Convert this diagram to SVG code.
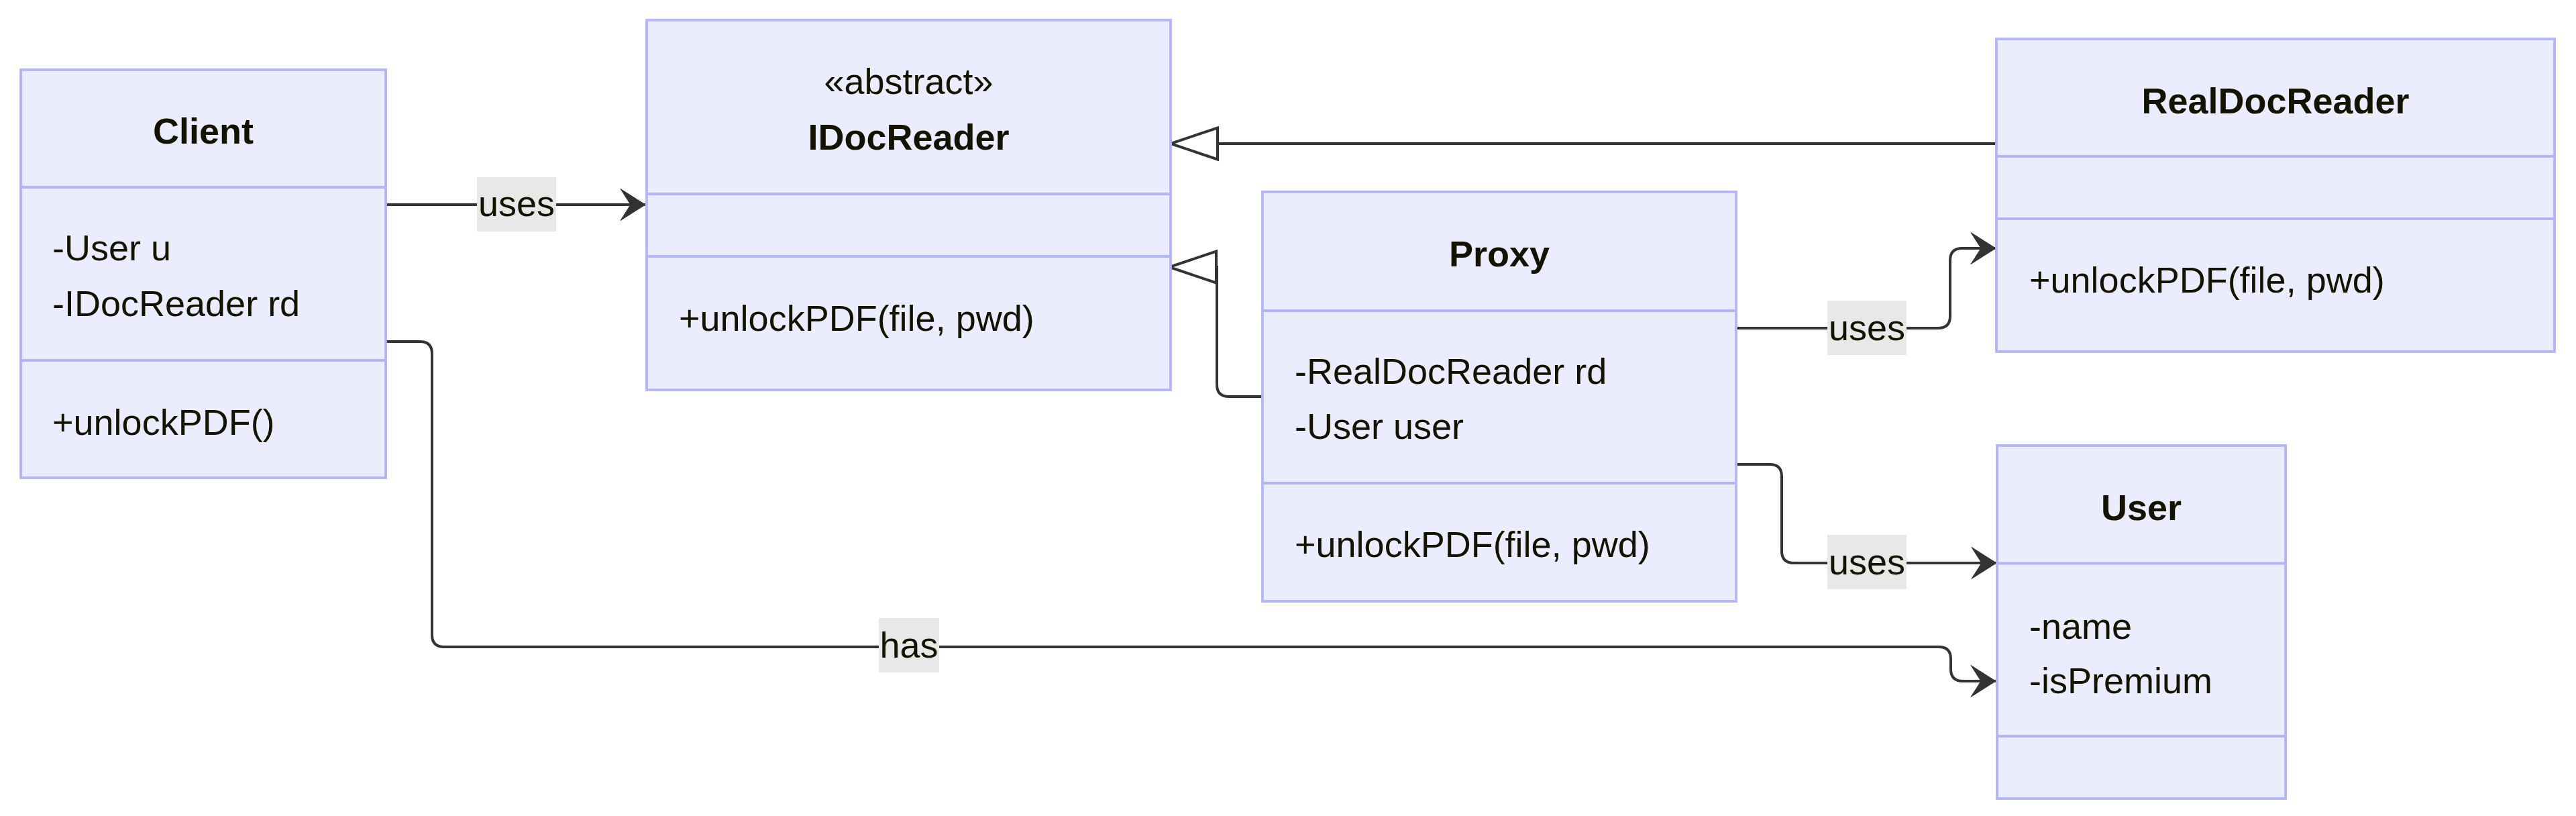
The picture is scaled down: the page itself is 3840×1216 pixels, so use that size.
<svg xmlns="http://www.w3.org/2000/svg" width="3840" height="1216" viewBox="0 0 3840 1216">
<style>
.box{fill:#ECECFF;stroke:#b4b4fa;stroke-width:3.8}
.dv{stroke:#b4b4fa;stroke-width:3.8}
.t{font-family:"Liberation Sans",Arial,Helvetica,sans-serif;font-size:54px;fill:#131300}
.h{font-weight:bold;text-anchor:middle}
.c{text-anchor:middle}
.edge{fill:none;stroke:#333333;stroke-width:4}
.lbl{fill:#e8e8e8}
</style>
<defs>
<marker id="arr" markerUnits="userSpaceOnUse" markerWidth="40" markerHeight="50" refX="37" refY="23.5" orient="auto" overflow="visible">
<path d="M37,23.5 L0,47 L15,23.5 L0,0 Z" fill="#333333" stroke="#333333" stroke-width="1" stroke-linejoin="round"/>
</marker>
<marker id="tri" markerUnits="userSpaceOnUse" markerWidth="76" markerHeight="54" refX="0" refY="23.5" orient="auto" overflow="visible">
<path d="M0,0 L70,23.5 L0,47 Z" fill="#ffffff" stroke="#333333" stroke-width="4"/>
</marker>
</defs>
<rect width="3840" height="1216" fill="#ffffff"/>

<g id="connectors">
<path class="edge" d="M575,305 L962,305" marker-end="url(#arr)"/>
<path class="edge" d="M575,509 L626,509 Q644,509 644,527 L644,946 Q644,964 662,964 L2890,964 Q2908,964 2908,982 L2908,997 Q2908,1015 2926,1015 L2975,1015" marker-end="url(#arr)"/>
<path class="edge" d="M2588,489 L2889,489 Q2907,489 2907,471 L2907,388 Q2907,370 2925,370 L2975,370" marker-end="url(#arr)"/>
<path class="edge" d="M2588,692 L2638,692 Q2656,692 2656,710 L2656,821 Q2656,839 2674,839 L2976,839" marker-end="url(#arr)"/>
<path class="edge" d="M2976,214 L1815,214" marker-end="url(#tri)"/>
<path class="edge" d="M1882,591 L1832,591 Q1814,591 1814,573 L1814,398 L1813,398" marker-end="url(#tri)"/>
<g id="labels">
<rect class="lbl" x="711" y="264" width="118" height="81"/>
<text class="t c" x="770" y="322">uses</text>
<rect class="lbl" x="1310" y="921" width="90" height="81"/>
<text class="t c" x="1355" y="980">has</text>
<rect class="lbl" x="2724" y="448" width="118" height="81"/>
<text class="t c" x="2783" y="507">uses</text>
<rect class="lbl" x="2724" y="797" width="118" height="81"/>
<text class="t c" x="2783" y="856">uses</text>
</g>
</g>

<g id="Client">
<rect class="box" x="31" y="104" width="544" height="608"/>
<line class="dv" x1="31" y1="279" x2="575" y2="279"/>
<line class="dv" x1="31" y1="537" x2="575" y2="537"/>
<text class="t h" x="303" y="214">Client</text>
<text class="t" x="78" y="388">-User u</text>
<text class="t" x="78" y="471">-IDocReader rd</text>
<text class="t" x="78" y="648">+unlockPDF()</text>
</g>

<g id="IDocReader">
<rect class="box" x="964" y="30" width="781" height="551"/>
<line class="dv" x1="964" y1="289" x2="1745" y2="289"/>
<line class="dv" x1="964" y1="382" x2="1745" y2="382"/>
<text class="t c" x="1354.5" y="140">«abstract»</text>
<text class="t h" x="1354.5" y="223">IDocReader</text>
<text class="t" x="1012" y="493">+unlockPDF(file, pwd)</text>
</g>

<g id="RealDocReader">
<rect class="box" x="2976" y="58" width="832" height="466"/>
<line class="dv" x1="2976" y1="233" x2="3808" y2="233"/>
<line class="dv" x1="2976" y1="326" x2="3808" y2="326"/>
<text class="t h" x="3392" y="169">RealDocReader</text>
<text class="t" x="3025" y="436">+unlockPDF(file, pwd)</text>
</g>

<g id="Proxy">
<rect class="box" x="1882" y="286" width="706" height="610"/>
<line class="dv" x1="1882" y1="463" x2="2588" y2="463"/>
<line class="dv" x1="1882" y1="720" x2="2588" y2="720"/>
<text class="t h" x="2235" y="397">Proxy</text>
<text class="t" x="1930" y="572">-RealDocReader rd</text>
<text class="t" x="1930" y="653.5">-User user</text>
<text class="t" x="1930" y="830">+unlockPDF(file, pwd)</text>
</g>

<g id="User">
<rect class="box" x="2977" y="664" width="430" height="526"/>
<line class="dv" x1="2977" y1="839.5" x2="3407" y2="839.5"/>
<line class="dv" x1="2977" y1="1097" x2="3407" y2="1097"/>
<text class="t h" x="3192" y="775">User</text>
<text class="t" x="3025" y="951.5">-name</text>
<text class="t" x="3025" y="1033">-isPremium</text>
</g>
</svg>
